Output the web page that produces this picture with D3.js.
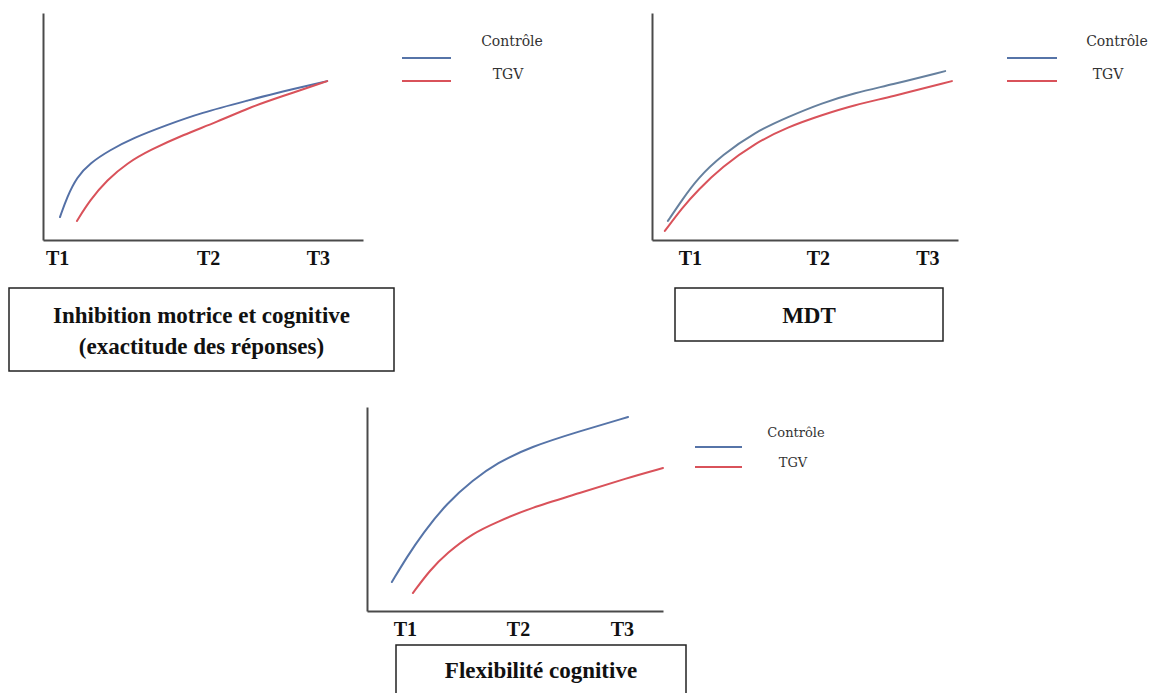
<!DOCTYPE html>
<html lang="fr">
<head>
<meta charset="utf-8">
<script src="https://cdn.jsdelivr.net/npm/d3@7"></script>
<style>
  html, body { margin: 0; padding: 0; background: #fff; }
  svg { display: block; }
</style>
</head>
<body>
<svg id="chart" width="1153" height="693"></svg>
<script>
// Shared labels
const timeLabels = ["T1", "T2", "T3"];
const seriesNames = ["Contrôle", "TGV"];
const panelTitles = [
  ["Inhibition motrice et cognitive", "(exactitude des réponses)"],
  ["MDT"],
  ["Flexibilité cognitive"]
];

// Position of T1..T3 along each time axis (0–100 scale)
const inhibTicks = [4.4, 51.6, 85.9];
const mdtTicks = [12.4, 54.2, 90.0];
const flexTicks = [12.8, 51.0, 86.1];

// Inhibition motrice et cognitive — schematic performance curves (0–100)
const inhibCtrlX = [5.3, 7.5, 10.6, 14.7, 20.9, 28.1, 38.8, 49.1, 64.7, 74.1, 88.8];
const inhibCtrlY = [10.1, 18.9, 27.8, 33.9, 39.6, 44.9, 50.7, 55.9, 61.7, 65.2, 70.0];
const inhibTgvX = [10.6, 14.7, 20.0, 26.3, 33.4, 43.8, 54.4, 64.7, 74.1, 88.8];
const inhibTgvY = [8.4, 17.6, 26.4, 33.9, 39.6, 46.3, 52.0, 58.5, 63.0, 70.0];

// MDT
const mdtCtrlX = [5.2, 9.8, 15.0, 22.9, 33.7, 44.4, 55.6, 66.3, 77.8, 95.8];
const mdtCtrlY = [8.4, 17.6, 27.3, 37.4, 47.6, 54.2, 60.4, 64.8, 68.3, 74.4];
const mdtTgvX = [4.2, 9.8, 15.0, 22.9, 33.7, 44.4, 55.6, 66.3, 77.8, 98.0];
const mdtTgvY = [4.0, 14.1, 22.0, 32.2, 42.7, 49.8, 55.1, 59.5, 63.0, 70.0];

// Flexibilité cognitive
const flexCtrlX = [8.4, 13.5, 18.9, 27.0, 35.8, 43.9, 55.1, 72.0, 88.2];
const flexCtrlY = [14.2, 26.5, 38.2, 52.9, 64.2, 72.5, 80.4, 88.2, 95.1];
const flexTgvX = [15.5, 21.3, 27.0, 35.8, 43.9, 55.1, 72.0, 87.8, 100.0];
const flexTgvY = [8.8, 20.1, 28.4, 38.2, 43.6, 50.5, 57.8, 65.2, 70.1];

const seriesColors = ["#5674a8", "#d9525a"];

const zip = (xs, ys) => xs.map((x, i) => ({ x, y: ys[i] }));

const panels = [
  {
    plot: { left: 43, top: 13, width: 320, height: 227 },
    ticks: inhibTicks,
    colors: ["#5470a6", "#d9525a"],
    series: [zip(inhibCtrlX, inhibCtrlY), zip(inhibTgvX, inhibTgvY)],
    legend: { x1: 402, x2: 451, y: [58, 81], textX: [512, 508], textY: [41, 74], size: 14 },
    box: { x: 9, y: 288, w: 385, h: 83, lines: [315, 346] },
    title: panelTitles[0]
  },
  {
    plot: { left: 652, top: 13, width: 306, height: 227 },
    ticks: mdtTicks,
    colors: ["#66809e", "#d9525a"],
    series: [zip(mdtCtrlX, mdtCtrlY), zip(mdtTgvX, mdtTgvY)],
    legend: { x1: 1007, x2: 1057, y: [58, 81], textX: [1117, 1108], textY: [41, 74], size: 14 },
    box: { x: 675, y: 288, w: 268, h: 53, lines: [315] },
    title: panelTitles[1]
  },
  {
    plot: { left: 367, top: 407, width: 296, height: 204 },
    ticks: flexTicks,
    colors: ["#5674a8", "#d9525a"],
    series: [zip(flexCtrlX, flexCtrlY), zip(flexTgvX, flexTgvY)],
    legend: { x1: 695, x2: 742, y: [447, 467], textX: [796, 793], textY: [432, 462], size: 13 },
    box: { x: 396, y: 645, w: 290, h: 60, lines: [670] },
    title: panelTitles[2]
  }
];

const svg = d3.select("#chart");

panels.forEach(p => {
  const { left, top, width, height } = p.plot;
  const x = d3.scaleLinear().domain([0, 100]).range([left, left + width]);
  const y = d3.scaleLinear().domain([0, 100]).range([top + height, top]);

  // Axes: plain lines, labelled time points only
  const xAxis = d3.axisBottom(x)
    .tickValues(p.ticks)
    .tickFormat((d, i) => timeLabels[i])
    .tickSize(0)
    .tickPadding(11);
  const gx = svg.append("g")
    .attr("transform", `translate(0,${top + height})`)
    .call(xAxis);
  gx.select(".domain").attr("stroke", "#4a4a4a").attr("stroke-width", 2);
  gx.selectAll("text")
    .attr("font-family", "'Liberation Serif', 'Times New Roman', serif")
    .attr("font-weight", "bold")
    .attr("font-size", 20)
    .attr("fill", "#111");

  const gy = svg.append("g")
    .attr("transform", `translate(${left},0)`)
    .call(d3.axisLeft(y).tickValues([]).tickSizeOuter(0));
  gy.select(".domain").attr("stroke", "#4a4a4a").attr("stroke-width", 2);

  // Curves (smoothed through the sampled points)
  const line = d3.line()
    .x(d => x(d.x))
    .y(d => y(d.y))
    .curve(d3.curveBasis);
  p.series.forEach((s, i) => {
    svg.append("path")
      .datum(s)
      .attr("fill", "none")
      .attr("stroke", p.colors[i])
      .attr("stroke-width", 2)
      .attr("stroke-linecap", "round")
      .attr("d", line);
  });

  // Legend
  const lg = p.legend;
  seriesNames.forEach((name, i) => {
    svg.append("line")
      .attr("x1", lg.x1).attr("x2", lg.x2)
      .attr("y1", lg.y[i]).attr("y2", lg.y[i])
      .attr("stroke", seriesColors[i])
      .attr("stroke-width", 2);
    svg.append("text")
      .attr("x", lg.textX[i])
      .attr("y", lg.textY[i])
      .attr("dy", "0.35em")
      .attr("text-anchor", "middle")
      .attr("font-family", "'DejaVu Serif', serif")
      .attr("font-size", lg.size)
      .attr("fill", "#333")
      .text(name);
  });

  // Title box
  const b = p.box;
  svg.append("rect")
    .attr("x", b.x).attr("y", b.y)
    .attr("width", b.w).attr("height", b.h)
    .attr("fill", "none")
    .attr("stroke", "#222")
    .attr("stroke-width", 1.5);
  p.title.forEach((t, i) => {
    svg.append("text")
      .attr("x", b.x + b.w / 2)
      .attr("y", b.lines[i])
      .attr("dy", "0.35em")
      .attr("text-anchor", "middle")
      .attr("font-family", "'Liberation Serif', 'Times New Roman', serif")
      .attr("font-weight", "bold")
      .attr("font-size", 23)
      .attr("fill", "#111")
      .text(t);
  });
});
</script>
</body>
</html>
